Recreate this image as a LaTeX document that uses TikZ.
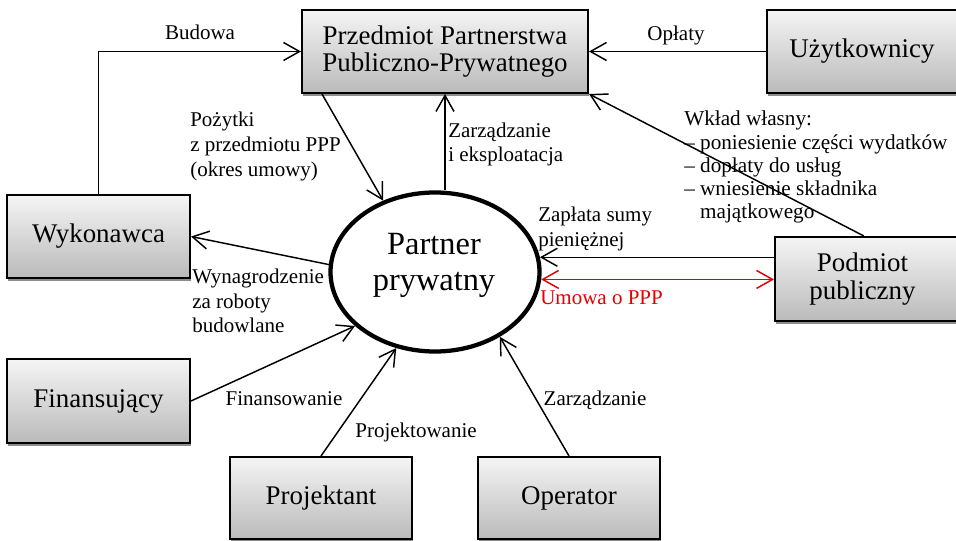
\documentclass[tikz,border=0pt]{standalone}
\usepackage{fontspec}
\setmainfont{Liberation Serif}
\usetikzlibrary{arrows.meta,shadows,shapes.geometric,calc}
\newcommand\tightlines{\lineskiplimit -20pt\relax}
\begin{document}
\begin{tikzpicture}[x=0.75pt,y=-0.75pt,
  box/.style={draw=black, line width=1.5pt, top color=black!4, bottom color=black!27,
    minimum width=137.25pt, minimum height=62.25pt, inner sep=0pt,
    align=center, font=\fontsize{20.2}{20.5}\selectfont\tightlines,
    drop shadow={shadow xshift=0.6pt, shadow yshift=-2.2pt, fill=black!45, opacity=1}},
  arr/.style={line width=1.1pt, -{Straight Barb[length=12pt,width=13.5pt,line width=1.1pt]}},
  redarr/.style={line width=1.1pt, draw=red!90!black,
    {Straight Barb[length=12pt,width=13.5pt,line width=1.1pt]}-{Straight Barb[length=12pt,width=13.5pt,line width=1.1pt]}},
  lbl/.style={inner sep=0pt, align=left, font=\fontsize{15.75}{18}\selectfont\tightlines}
]
\useasboundingbox (0,0) rectangle (956,541);

% boxes (the two on the right run past the page edge)
\node[box, minimum width=214.5pt] (przedmiot) at (445,51.5) {Przedmiot Partnerstwa\\Publiczno-Prywatnego};
\node[box, minimum width=149.25pt] (uzyt) at (866.5,51.5) {Użytkownicy\hspace*{6.75pt}};
\node[box] (wyk) at (98.5,236.5) {Wykonawca};
\node[box, minimum height=63pt] (fin) at (98.5,401) {Finansujący};
\node[box, minimum width=136.5pt, minimum height=61.5pt] (proj) at (321,498) {Projektant};
\node[box, minimum width=136.5pt, minimum height=61.5pt] (oper) at (569,498) {Operator};
\node[box, minimum width=143.25pt, minimum height=63pt] (podm) at (870.5,279) {Podmiot\hspace*{12pt}\\publiczny\hspace*{12pt}};

% central partner
\node[ellipse, draw=black, line width=3.2pt, minimum width=156.75pt, minimum height=119.25pt, inner sep=0pt] (partner) at (435,272) {};
\node[align=center, inner sep=0pt, font=\fontsize{24.3}{27}\selectfont] (ptxt) at (434,265.5) {Partner\\prywatny};

% connectors
\draw[arr] (wyk.north) |- (przedmiot.west);
\draw[arr] (uzyt.west) -- (przedmiot.east);
\draw[arr] ([xshift=15.75pt]przedmiot.south west) -- (partner.126);
\draw[arr] (partner.north -| przedmiot.south) -- (przedmiot.south);
\draw[arr] ([xshift=-5pt]podm.north) -- (przedmiot.south east);
\draw[arr] (podm.west |- partner.8) -- (partner.8);
\draw[redarr] (partner.-4) -- (partner.-4 -| podm.west);
\draw[arr] (partner.176) -- (wyk.east);
\draw[arr] (fin.east) -- (partner.214);
\draw[arr] (proj.north) -- (partner.243);
\draw[arr] (oper.north) -- (partner.-45);

% labels
\node[lbl, anchor=base] (lbudowa) at (200,40) {Budowa};
\node[lbl, anchor=base] (loplaty) at (676,41) {Opłaty};
\node[lbl, anchor=north west, font=\fontsize{15.75}{18.6}\selectfont\tightlines] (lpozytki) at (190,112) {Pożytki\\z przedmiotu PPP\\(okres umowy)};
\node[lbl, anchor=north west] (lzarz) at (448,123) {Zarządzanie\\i eksploatacja};
\node[lbl, anchor=north west, font=\fontsize{15.9}{17.4}\selectfont\tightlines] (lwklad) at (684,111)
  {Wkład własny:\\– poniesienie części wydatków\\– dopłaty do usług\\– wniesienie składnika\\\phantom{– }majątkowego};
\node[lbl, anchor=north west, font=\fontsize{15.75}{18.5}\selectfont\tightlines] (lzaplata) at (538,207) {Zapłata sumy\\pieniężnej};
\node[lbl, anchor=base west, text=red!90!black] (lumowa) at (540,305) {Umowa o PPP};
\node[lbl, anchor=north west, font=\fontsize{15.75}{18.4}\selectfont\tightlines] (lwyn) at (192,269) {Wynagrodzenie\\za roboty\\budowlane};
\node[lbl, anchor=base] (lfin) at (284,405) {Finansowanie};
\node[lbl, anchor=base] (lproj) at (416,437) {Projektowanie};
\node[lbl, anchor=base] (lzarz2) at (595,405) {Zarządzanie};
\end{tikzpicture}
\end{document}
